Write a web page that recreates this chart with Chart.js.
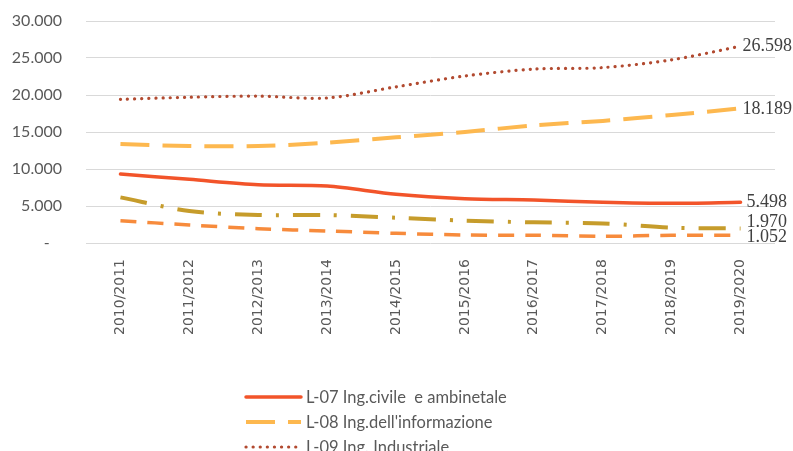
<!DOCTYPE html>
<html><head><meta charset="utf-8">
<script src="https://cdn.jsdelivr.net/npm/chart.js@4.4.1/dist/chart.umd.min.js"></script>
<style>html,body{margin:0;padding:0;background:#fff;overflow:hidden}#wrap{position:relative;width:793px;height:451px}canvas{display:block}</style>
</head><body><div id="wrap"><canvas id="c" width="793" height="451"></canvas></div>
<script>
const categories = ["2010/2011","2011/2012","2012/2013","2013/2014","2014/2015","2015/2016","2016/2017","2017/2018","2018/2019","2019/2020"];
const seriesNames = ["L-07 Ing.civile  e ambinetale","L-08 Ing.dell'informazione","L-09 Ing. Industriale","L-23 Scienze e tecniche dell'edilizia","L-17 Scienze dell'architettura"];
const civile = [9320, 8600, 7880, 7700, 6580, 5990, 5810, 5500, 5360, 5498];
const informazione = [13380, 13100, 13100, 13550, 14280, 15000, 15900, 16500, 17300, 18189];
const industriale = [19420, 19700, 19850, 19600, 21100, 22570, 23500, 23700, 24750, 26598];
const edilizia = [6170, 4320, 3780, 3780, 3420, 3020, 2790, 2650, 2070, 1970];
const architettura = [3020, 2430, 1940, 1620, 1310, 1080, 1050, 900, 1050, 1052];
const yTicks = [0, 5000, 10000, 15000, 20000, 25000, 30000];

const fmt = v => v === 0 ? "-   " : String(v).replace(/\B(?=(\d{3})+(?!\d))/g, ".");

const styles = [
  {color:"#F2542A", width:3.5, dash:[], cap:"round"},
  {color:"#FDB84F", width:4, dash:[29,13], cap:"butt"},
  {color:"#B24A30", width:3.2, dash:[0.1,7], cap:"round"},
  {color:"#C69C2B", width:4, dash:[27,14,3,14], cap:"butt"},
  {color:"#F78B3C", width:3.5, dash:[16,11], cap:"butt"}
];
const values = [civile, informazione, industriale, edilizia, architettura];
const labelDy = [0, 1, 0, -6, 2];

const datasets = values.map((d,i)=>({
  label: seriesNames[i], data: d,
  borderColor: styles[i].color, backgroundColor: styles[i].color,
  borderWidth: styles[i].width, borderDash: styles[i].dash, borderCapStyle: styles[i].cap,
  pointRadius: 0, tension: 0.3, fill:false
}));

const endLabels = {
  id:"endLabels",
  afterDatasetsDraw(chart){
    const ctx = chart.ctx;
    ctx.save();
    ctx.font = "18px 'Liberation Serif'";
    ctx.fillStyle = "#404040";
    ctx.textBaseline = "middle";
    chart.data.datasets.forEach((ds,i)=>{
      const meta = chart.getDatasetMeta(i);
      const p = meta.data[meta.data.length-1];
      const t = fmt(ds.data[ds.data.length-1]);
      const w = ctx.measureText(t).width;
      let x = p.x + 6;
      if (x + w > chart.width - 1) x = chart.width - 1 - w;
      ctx.fillText(t, x, p.y + labelDy[i]);
    });
    ctx.restore();
  }
};

const customLegend = {
  id:"customLegend",
  afterDraw(chart){
    const ctx = chart.ctx;
    ctx.save();
    ctx.font = "16.5px Lato";
    ctx.fillStyle = "#595959";
    ctx.textBaseline = "middle";
    chart.data.datasets.forEach((ds,i)=>{
      const y = 397 + i*25;
      const s = styles[i];
      ctx.beginPath();
      ctx.strokeStyle = s.color; ctx.lineWidth = s.width;
      ctx.setLineDash(s.dash); ctx.lineCap = s.cap;
      ctx.moveTo(246, y); ctx.lineTo(301, y); ctx.stroke();
      ctx.setLineDash([]);
      ctx.fillText(ds.label, 306, y + 1);
    });
    ctx.restore();
  }
};

new Chart(document.getElementById("c"), {
  type:"line",
  data:{labels:categories, datasets},
  plugins:[endLabels, customLegend],
  options:{
    responsive:false, animation:false, devicePixelRatio:1,
    layout:{padding:{top:21, right:18, bottom:0, left:0}},
    plugins:{legend:{display:false}, tooltip:{enabled:false}},
    scales:{
      x:{
        offset:true,
        grid:{display:false, drawTicks:false},
        border:{display:false},
        ticks:{autoSkip:false, minRotation:90, maxRotation:90, padding:16, color:"#595959", font:{family:"DejaVu Sans", size:14}},
        afterFit(s){ s.height = 208; }
      },
      y:{
        min:0, max:30000,
        afterBuildTicks(s){ s.ticks = yTicks.map(v=>({value:v})); },
        grid:{color:"#D9D9D9", lineWidth:1, drawTicks:false},
        border:{display:false},
        ticks:{padding:24, color:"#595959", font:{family:"Lato", size:16}, callback:v=>fmt(v)},
        afterFit(s){ s.width = 86; s.paddingTop = 0; s.paddingBottom = 0; }
      }
    }
  }
});
</script></body></html>
